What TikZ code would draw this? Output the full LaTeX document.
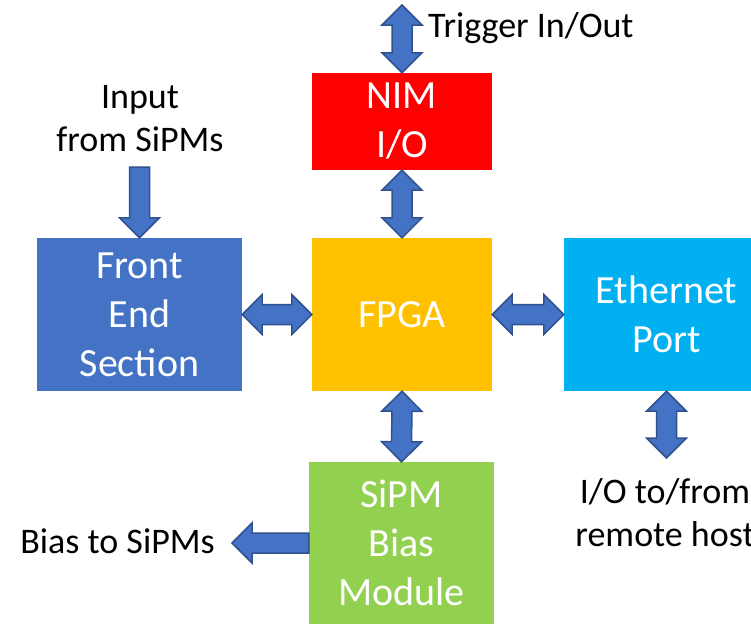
\documentclass[tikz,border=0pt]{standalone}
\usepackage{fontspec}
\setmainfont{Carlito}
\usetikzlibrary{calc}

\definecolor{nimred}{HTML}{FF0000}
\definecolor{feblue}{HTML}{4472C4}
\definecolor{fpgaorange}{HTML}{FFC000}
\definecolor{ethcyan}{HTML}{00B0F0}
\definecolor{biasgreen}{HTML}{92D050}
\definecolor{arrowfill}{HTML}{4472C4}
\definecolor{arrowline}{HTML}{2F528F}

% block arrow geometry: head length, head half width, shaft half width
\newcommand{\ahl}{20pt}
\newcommand{\ahw}{20pt}
\newcommand{\asw}{10pt}

\begin{document}
\begin{tikzpicture}[x=1pt,y=-1pt,
  block/.style={inner sep=0pt,align=center,text=white,
    font=\fontsize{40}{49}\selectfont},
  labeltext/.style={inner sep=0pt,align=center,
    font=\fontsize{36}{43}\selectfont},
  blockarrow/.style={fill=arrowfill,draw=arrowline,line width=1.5pt,
    line join=miter},
  dblarrow/.style={blockarrow,to path={
    let \p1=(\tikztostart),\p2=(\tikztotarget),
        \n1={atan2(\y2-\y1,\x2-\x1)} in
    (\p1) -- ($(\p1)+(\n1:\ahl)+(\n1+90:\ahw)$)
    -- ($(\p1)+(\n1:\ahl)+(\n1+90:\asw)$)
    -- ($(\p2)+(\n1:-\ahl)+(\n1+90:\asw)$)
    -- ($(\p2)+(\n1:-\ahl)+(\n1+90:\ahw)$)
    -- (\p2)
    -- ($(\p2)+(\n1:-\ahl)+(\n1-90:\ahw)$)
    -- ($(\p2)+(\n1:-\ahl)+(\n1-90:\asw)$)
    -- ($(\p1)+(\n1:\ahl)+(\n1-90:\asw)$)
    -- ($(\p1)+(\n1:\ahl)+(\n1-90:\ahw)$)
    -- cycle}},
  sglarrow/.style={blockarrow,to path={
    let \p1=(\tikztostart),\p2=(\tikztotarget),
        \n1={atan2(\y2-\y1,\x2-\x1)} in
    ($(\p1)+(\n1+90:\asw)$)
    -- ($(\p2)+(\n1:-\ahl)+(\n1+90:\asw)$)
    -- ($(\p2)+(\n1:-\ahl)+(\n1+90:\ahw)$)
    -- (\p2)
    -- ($(\p2)+(\n1:-\ahl)+(\n1-90:\ahw)$)
    -- ($(\p2)+(\n1:-\ahl)+(\n1-90:\asw)$)
    -- ($(\p1)+(\n1-90:\asw)$)
    -- cycle}}]
  \useasboundingbox (0,0) rectangle (751,624);

  \node[block,fill=nimred,minimum width=180pt,minimum height=97pt]
    (nim) at (402,121.5) {NIM\\I/O};
  \node[block,fill=feblue,minimum width=205pt,minimum height=153pt]
    (fe) at (139.5,314.5) {Front\\End\\Section};
  \node[block,fill=fpgaorange,minimum width=180pt,minimum height=153pt]
    (fpga) at (402,314.5) {FPGA};
  \node[block,fill=ethcyan,minimum width=205pt,minimum height=153pt]
    (eth) at (666.5,314.5) {Ethernet\\Port};
  \node[block,fill=biasgreen,minimum width=185pt,minimum height=162pt]
    (bias) at (401.5,543) {SiPM\\Bias\\Module};

  \coordinate (trig) at (402,5);
  \coordinate (insrc) at (139.5,167);
  \coordinate (host) at (666.5,458);
  \coordinate (biasout) at (232,543);

  \draw[dblarrow] (trig) to (nim.north);
  \draw[dblarrow] (nim.south) to (fpga.north);
  \draw[dblarrow] (fe.east) to (fpga.west);
  \draw[dblarrow] (fpga.east) to (eth.west);
  \draw[dblarrow] (fpga.south) to (bias.north);
  \draw[dblarrow] (eth.south) to (host);
  \draw[sglarrow] (insrc) to (fe.north);
  \draw[sglarrow] (bias.west) to (biasout);

  \node[labeltext,anchor=base west] (trigtxt) at (428,37) {Trigger In/Out};
  \node[labeltext] (intxt) at (140,119) {Input\\from SiPMs};
  \node[labeltext,anchor=east] (biastxt) at (215,541) {Bias to SiPMs};
  \node[labeltext] (hosttxt) at (665,513) {I/O to/from\\remote host};
\end{tikzpicture}
\end{document}
